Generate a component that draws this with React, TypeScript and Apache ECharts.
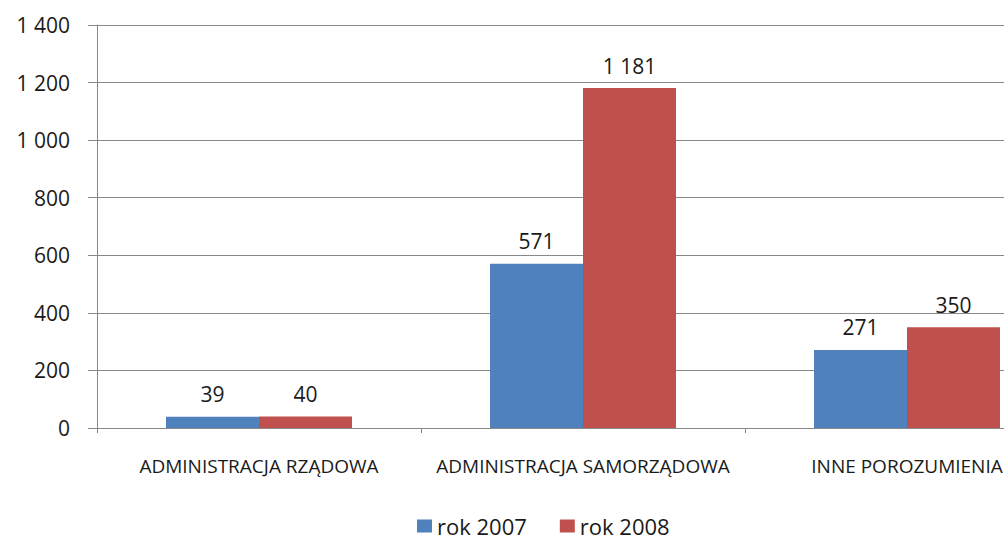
import React, { useEffect, useRef } from "react";
import * as echarts from "echarts";

const categories = ["ADMINISTRACJA RZĄDOWA", "ADMINISTRACJA SAMORZĄDOWA", "INNE POROZUMIENIA"];
const seriesNames = ["rok 2007", "rok 2008"];
const values2007 = [39, 571, 271];
const values2008 = [40, 1181, 350];
const colors = ["#4F81BD", "#C0504D"];

const fmt = (v: number) => String(v).replace(/\B(?=(\d{3})+(?!\d))/g, " ");

export default function App() {
  const ref = useRef<HTMLDivElement>(null);
  useEffect(() => {
    document.body.style.margin = "0";
    const chart = echarts.init(ref.current!, null, { renderer: "svg" });
    const font = "'Open Sans', sans-serif";
    const labelStyle = {
      show: true,
      position: "top" as const,
      distance: 12,
      fontFamily: font,
      fontSize: 21,
      color: "#1a1a1a",
      formatter: (p: any) => fmt(p.value),
    };
    chart.setOption({
      animation: false,
      backgroundColor: "#ffffff",
      grid: { left: 97, top: 25, right: -65, bottom: 114, containLabel: false, outerBoundsMode: "none" },
      legend: {
        top: 510,
        left: 412,
        itemWidth: 15,
        itemHeight: 13,
        itemGap: 33,
        icon: "rect",
        textStyle: { fontFamily: font, fontSize: 22, lineHeight: 22, color: "#1a1a1a" },
        data: seriesNames,
      },
      xAxis: {
        type: "category",
        data: categories,
        axisLine: { lineStyle: { color: "#888888", width: 1 } },
        axisTick: { show: true, length: 5, lineStyle: { color: "#888888" } },
        axisLabel: { margin: 28, fontFamily: font, fontSize: 19, color: "#1a1a1a", interval: 0 },
      },
      yAxis: {
        type: "value",
        min: 0,
        max: 1400,
        interval: 200,
        axisLine: { show: true, lineStyle: { color: "#888888", width: 1 } },
        axisTick: { show: true, length: 9, lineStyle: { color: "#888888" } },
        splitLine: { lineStyle: { color: "#888888", width: 1 } },
        axisLabel: { margin: 27, fontFamily: font, fontSize: 21, color: "#1a1a1a", formatter: (v: number) => fmt(v) },
      },
      series: [
        { name: seriesNames[0], type: "bar", data: values2007, barWidth: 93, barGap: "0%", itemStyle: { color: colors[0] }, label: labelStyle },
        { name: seriesNames[1], type: "bar", data: values2008, barWidth: 93, barGap: "0%", itemStyle: { color: colors[1] }, label: labelStyle },
      ],
    });
    return () => chart.dispose();
  }, []);
  return <div ref={ref} style={{ position: "fixed", left: 0, top: 0, width: 1004, height: 542 }} />;
}
